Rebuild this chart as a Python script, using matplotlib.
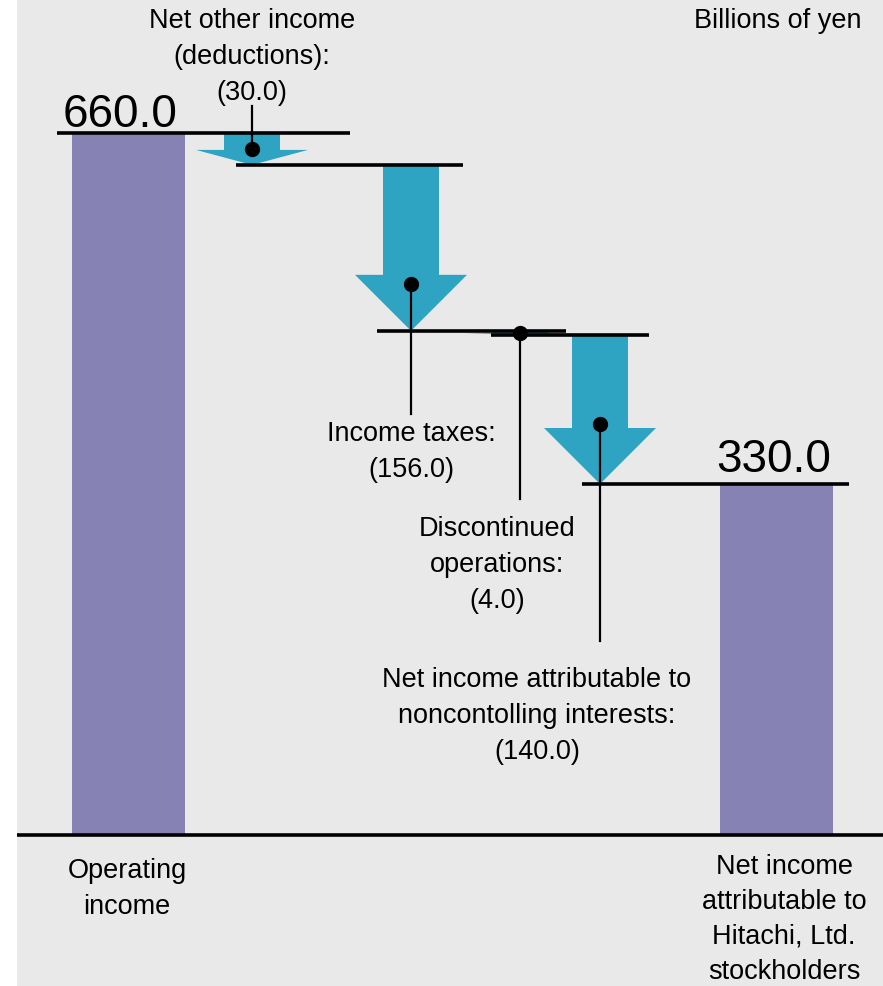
import matplotlib
matplotlib.use('Agg')
import matplotlib.pyplot as plt
from matplotlib.patches import Polygon

plt.rcParams['font.family'] = ['Liberation Sans', 'DejaVu Sans']

# data (billions of yen)
start_label = 'Operating\nincome'
start_value = 660.0
end_label = 'Net income\nattributable to\nHitachi, Ltd.\nstockholders'
step_labels = ['Net other income\n(deductions):',
               'Income taxes:',
               'Discontinued\noperations:',
               'Net income attributable to\nnoncontolling interests:']
step_values = [-30.0, -156.0, -4.0, -140.0]
unit_label = 'Billions of yen'

bar_color = '#8683b4'
arrow_color = '#2ea4c2'
bg_color = '#e9e9e9'

W, H = 883, 987
base_px = 836
px_per_unit = 702 / start_value
fs = 19.5
ls = 1.5


def py(p):
    # pixel row -> data value
    return (base_px - p) / px_per_unit


levels = [start_value]
for v in step_values:
    levels.append(levels[-1] + v)
end_value = levels[-1]

fig = plt.figure(figsize=(W / 100, H / 100), dpi=100)
fig.patch.set_facecolor('white')
ax = fig.add_axes([17 / W, 0, 1 - 17 / W, 1])
ax.set_facecolor(bg_color)
ax.set_xlim(17, W)
ax.set_ylim(py(H), py(0))
ax.set_xticks([])
ax.set_yticks([])
for s in ax.spines.values():
    s.set_visible(False)

# bars
ax.bar([128, 776], [start_value, end_value], width=113, color=bar_color, zorder=2)
ax.axhline(0, color='k', lw=2.6, zorder=4)

# level lines
spans = [(57, 350), (236, 463), (377, 566), (491, 649), (582, 849)]
for lv, (x0, x1) in zip(levels, spans):
    ax.hlines(lv, x0, x1, color='k', lw=2.6, zorder=4)

# arrows with leader lines and labels
centers = [252, 411, 520, 600]
shaft = 28
head = 56
head_len_max = 56 / px_per_unit
dot_frac = [0.5, 0.72, 0.6, 0.6]
leader_end = [107, 415, 500, 642]
label_x = [252, 411, 497, 537]
label_top = [8, 421, 516, 667]
for i, v in enumerate(step_values):
    top = levels[i]
    tip = levels[i + 1]
    cx = centers[i]
    hl = min(head_len_max, 0.47 * abs(v))
    hb = tip + hl
    pts = [(cx - shaft, top), (cx + shaft, top), (cx + shaft, hb), (cx + head, hb),
           (cx, tip), (cx - head, hb), (cx - shaft, hb)]
    ax.add_patch(Polygon(pts, closed=True, color=arrow_color, lw=0, zorder=3))
    dy = top + dot_frac[i] * v
    ax.plot([cx, cx], [dy, py(leader_end[i])], color='k', lw=1.6, zorder=5)
    ax.plot(cx, dy, 'o', color='k', ms=10, zorder=6)
    txt = f'{step_labels[i]}\n({abs(v):.1f})'
    ax.text(label_x[i], py(label_top[i]), txt, ha='center', va='top',
            fontsize=fs, linespacing=ls, zorder=6)

# value labels
ax.text(120, py(127), f'{start_value:.1f}', ha='center', va='baseline', fontsize=33)
ax.text(774, py(472), f'{end_value:.1f}', ha='center', va='baseline', fontsize=33)

# category labels
ax.text(127, py(858), start_label, ha='center', va='top', fontsize=fs, linespacing=ls)
ax.text(784, py(985), end_label, ha='center', va='bottom', fontsize=fs, linespacing=1.45)
ax.text(862, py(8), unit_label, ha='right', va='top', fontsize=fs)

fig.savefig('out.png', dpi=100, facecolor=fig.get_facecolor())
